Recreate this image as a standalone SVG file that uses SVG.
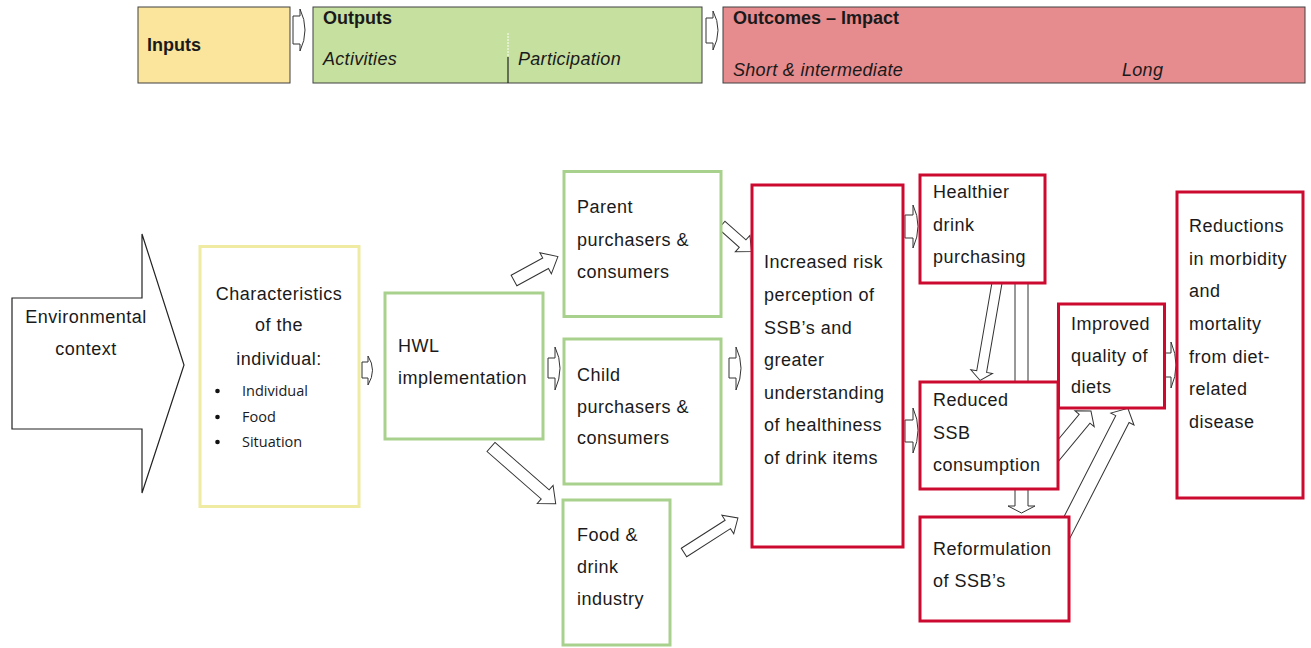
<svg xmlns="http://www.w3.org/2000/svg" width="1311" height="648" viewBox="0 0 1311 648">
<style>
text{font-family:"Liberation Sans",Arial,sans-serif;fill:#1a1a1a}
.t{font-size:18px;letter-spacing:0.5px}
.h{font-size:18px;font-weight:bold}
.i{font-size:18px;font-style:italic;letter-spacing:0.3px}
.b{font-family:"Open Sans","Liberation Sans",sans-serif;font-size:14.5px}
.band{stroke:#404040;stroke-width:1}
.g{fill:#fff;stroke:#A9D18E;stroke-width:3}
.y{fill:#fff;stroke:#F0EBA2;stroke-width:3}
.r{fill:#fff;stroke:#CC0A2F;stroke-width:3}
.ar{fill:#fff;stroke:#333;stroke-width:1}
</style>

<g id="header">
  <rect class="band" x="138" y="7" width="152" height="76" fill="#FBE49C"/>
  <text class="h" x="147" y="51">Inputs</text>
  <path class="ar" d="M293,16 H300 V9 Q310,30 300,51 V44 H293 Z"/>
  <rect class="band" x="313" y="7" width="389" height="76" fill="#C6E0A0"/>
  <line x1="508" y1="33" x2="508" y2="57" stroke="#fff" stroke-width="1" stroke-dasharray="2 1"/>
  <line x1="508" y1="57" x2="508" y2="83" stroke="#222" stroke-width="1.2"/>
  <text class="h" x="323" y="24">Outputs</text>
  <text class="i" x="323" y="65">Activities</text>
  <text class="i" x="518" y="65">Participation</text>
  <path class="ar" d="M706,18 H713 V11 Q723,30 713,50 V43 H706 Z"/>
  <rect class="band" x="723" y="7" width="582" height="76" fill="#E68B8E"/>
  <text class="h" x="733" y="24">Outcomes – Impact</text>
  <text class="i" x="733" y="76">Short &amp; intermediate</text>
  <text class="i" x="1122" y="76">Long</text>
</g>

<g id="connectors">
  <path class="ar" d="M362,362 H368 V356 Q377,370 368,385 V378 H362 Z"/>
  <path class="ar" d="M548,358 H555 V347 Q565,368 555,390 V378 H548 Z"/>
  <path class="ar" d="M729,358 H736 V347 Q746,368 736,390 V378 H729 Z"/>
  <path class="ar" d="M905,215 H913 V205 Q923,226 913,248 V238 H905 Z"/>
  <path class="ar" d="M905,420 H913 V408 Q923,430 913,453 V442 H905 Z"/>
  <path class="ar" d="M1165,353 H1171 V342 Q1181,365 1171,388 V377 H1165 Z"/>
  <polygon class="ar" transform="translate(514,280.5) rotate(-28.6)" points="0,-6 36,-6 36,-12 50,0 36,12 36,6 0,6"/>
  <polygon class="ar" transform="translate(491,447) rotate(41.2)" points="0,-6 72,-6 72,-12 86,0 72,12 72,6 0,6"/>
  <polygon class="ar" transform="translate(721.7,225) rotate(41.7)" points="0,-5 28,-5 28,-11 40,0 28,11 28,5 0,5"/>
  <polygon class="ar" transform="translate(684,552.5) rotate(-32.6)" points="0,-5 52,-5 52,-11 64,0 52,11 52,5 0,5"/>
  <polygon class="ar" transform="translate(998,277) rotate(99.8)" points="0,-5 96,-5 96,-11 105,0 96,11 96,5 0,5"/>
  <polygon class="ar" points="1015,283 1028,283 1028,506 1035,506 1021.5,513 1008,506 1015,506"/>
  <polygon class="ar" transform="translate(1052,458) rotate(-50.3)" points="0,-7 51,-7 51,-12.5 61,0 51,12.5 51,7 0,7"/>
  <polygon class="ar" transform="translate(1060,541) rotate(-62.9)" points="0,-7.5 137,-7.5 137,-13 149,0 137,13 137,7.5 0,7.5"/>
</g>

<g id="env">
  <polygon fill="#fff" stroke="#222" stroke-width="1.2" points="12,298 142,298 142,234 184,365 142,493 142,429 12,429"/>
  <text class="t" x="86" y="323" text-anchor="middle">Environmental</text>
  <text class="t" x="86" y="355" text-anchor="middle">context</text>
</g>

<g id="characteristics">
  <rect class="y" x="200" y="246.5" width="159" height="260"/>
  <text class="t" x="279" y="300" text-anchor="middle">Characteristics</text>
  <text class="t" x="279" y="331" text-anchor="middle">of the</text>
  <text class="t" x="279" y="365" text-anchor="middle">individual:</text>
  <circle cx="217.5" cy="391" r="2.3" fill="#111"/>
  <circle cx="217.5" cy="417" r="2.3" fill="#111"/>
  <circle cx="217.5" cy="442" r="2.3" fill="#111"/>
  <text class="b" x="242" y="396">Individual</text>
  <text class="b" x="242" y="422">Food</text>
  <text class="b" x="242" y="447">Situation</text>
</g>

<g id="hwl">
  <rect class="g" x="385" y="293" width="158" height="146"/>
  <text class="t" x="398" y="352">HWL</text>
  <text class="t" x="398" y="384">implementation</text>
</g>

<g id="parent">
  <rect class="g" x="564" y="171.5" width="157" height="145"/>
  <text class="t" x="577" y="213">Parent</text>
  <text class="t" x="577" y="246">purchasers &amp;</text>
  <text class="t" x="577" y="278">consumers</text>
</g>

<g id="child">
  <rect class="g" x="564" y="339" width="157" height="145"/>
  <text class="t" x="577" y="381">Child</text>
  <text class="t" x="577" y="413">purchasers &amp;</text>
  <text class="t" x="577" y="444">consumers</text>
</g>

<g id="food">
  <rect class="g" x="563" y="500" width="107" height="145"/>
  <text class="t" x="577" y="541">Food &amp;</text>
  <text class="t" x="577" y="573">drink</text>
  <text class="t" x="577" y="605">industry</text>
</g>

<g id="increased">
  <rect class="r" x="752" y="185" width="151" height="362"/>
  <text class="t" x="764" y="268">Increased risk</text>
  <text class="t" x="764" y="301">perception of</text>
  <text class="t" x="764" y="334">SSB’s and</text>
  <text class="t" x="764" y="366">greater</text>
  <text class="t" x="764" y="399">understanding</text>
  <text class="t" x="764" y="431">of healthiness</text>
  <text class="t" x="764" y="464">of drink items</text>
</g>

<g id="healthier">
  <rect class="r" x="920" y="175" width="125" height="108"/>
  <text class="t" x="933" y="198">Healthier</text>
  <text class="t" x="933" y="231">drink</text>
  <text class="t" x="933" y="263">purchasing</text>
</g>

<g id="reduced">
  <rect class="r" x="920" y="382" width="138" height="107"/>
  <text class="t" x="933" y="406">Reduced</text>
  <text class="t" x="933" y="439">SSB</text>
  <text class="t" x="933" y="471">consumption</text>
</g>

<g id="reformulation">
  <rect class="r" x="920" y="517" width="149" height="104"/>
  <text class="t" x="933" y="555">Reformulation</text>
  <text class="t" x="933" y="587">of SSB’s</text>
</g>

<g id="improved">
  <rect class="r" x="1058.5" y="304" width="106" height="104"/>
  <text class="t" x="1071" y="330">Improved</text>
  <text class="t" x="1071" y="362">quality of</text>
  <text class="t" x="1071" y="393">diets</text>
</g>

<g id="reductions">
  <rect class="r" x="1177" y="192" width="126" height="306"/>
  <text class="t" x="1189" y="232">Reductions</text>
  <text class="t" x="1189" y="264.5">in morbidity</text>
  <text class="t" x="1189" y="297">and</text>
  <text class="t" x="1189" y="330">mortality</text>
  <text class="t" x="1189" y="363">from diet-</text>
  <text class="t" x="1189" y="395">related</text>
  <text class="t" x="1189" y="428">disease</text>
</g>
</svg>
